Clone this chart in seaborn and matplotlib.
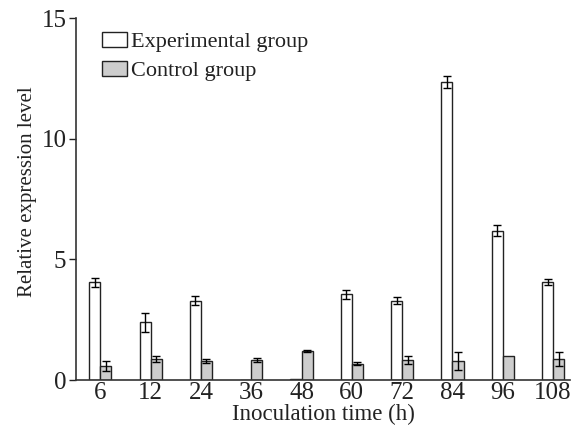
import numpy as np
import pandas as pd
import matplotlib
matplotlib.use("Agg")
import matplotlib.pyplot as plt
import seaborn as sns

# values
times = ['6', '12', '24', '36', '48', '60', '72', '84', '96', '108']
exp_mean = [4.05, 2.4, 3.3, 0.0, 0.05, 3.55, 3.3, 12.36, 6.2, 4.07]
exp_err = [0.2, 0.4, 0.2, 0.0, 0.0, 0.18, 0.13, 0.25, 0.24, 0.12]
ctrl_mean = [0.6, 0.87, 0.8, 0.82, 1.2, 0.69, 0.83, 0.8, 1.0, 0.87]
ctrl_err = [0.2, 0.13, 0.08, 0.08, 0.03, 0.06, 0.17, 0.37, 0.0, 0.29]

groups = ['Experimental group', 'Control group']
df = pd.DataFrame({
    'time': times * 2,
    'value': exp_mean + ctrl_mean,
    'group': [groups[0]] * len(times) + [groups[1]] * len(times),
})

sns.set_style('white')
plt.rcParams['font.family'] = ['Liberation Serif', 'DejaVu Serif']

fig = plt.figure(figsize=(5.73, 4.32), dpi=100)
ax = fig.add_axes([0.133, 0.120, 0.862, 0.838])

sns.barplot(data=df, x='time', y='value', hue='group', order=times,
            hue_order=groups, palette=['white', '#cdcdcd'], width=0.44,
            edgecolor='#222222', linewidth=1.0, errorbar=None, ax=ax)

# error bars on top of each bar
for cont, errs in zip(ax.containers, [exp_err, ctrl_err]):
    for bar, e in zip(cont, errs):
        if e <= 0:
            continue
        xc = bar.get_x() + bar.get_width() / 2
        ax.errorbar(xc, bar.get_height(), yerr=e, color='black', lw=1.0,
                    capsize=3.2, capthick=1.0, fmt='none')

ax.set_xlim(-0.48, 9.34)
ax.set_ylim(0, 15)
ax.set_yticks([0, 5, 10, 15])
ax.tick_params(axis='y', direction='out', length=5, width=1, labelsize=18,
               left=True, pad=2, colors='#222222')
ax.tick_params(axis='x', length=0, labelsize=18, pad=1, colors='#222222')
for s in ['top', 'right']:
    ax.spines[s].set_visible(False)
for s in ['left', 'bottom']:
    ax.spines[s].set_color('#333333')
    ax.spines[s].set_linewidth(1.2)

ax.set_xlabel('Inoculation time (h)', fontsize=16.5, labelpad=0, color='#222222')
ax.set_ylabel('Relative expression level', fontsize=15, labelpad=3, color='#222222')
ax.yaxis.label.set_y(0.52)

leg = ax.legend(loc='upper left', bbox_to_anchor=(0.053, 0.962), frameon=False,
                fontsize=16, handlelength=1.1, handleheight=0.68,
                handletextpad=0.2, labelspacing=0.38, borderaxespad=0,
                borderpad=0)
for t in leg.get_texts():
    t.set_color('#222222')

fig.savefig('out.png', dpi=100)
